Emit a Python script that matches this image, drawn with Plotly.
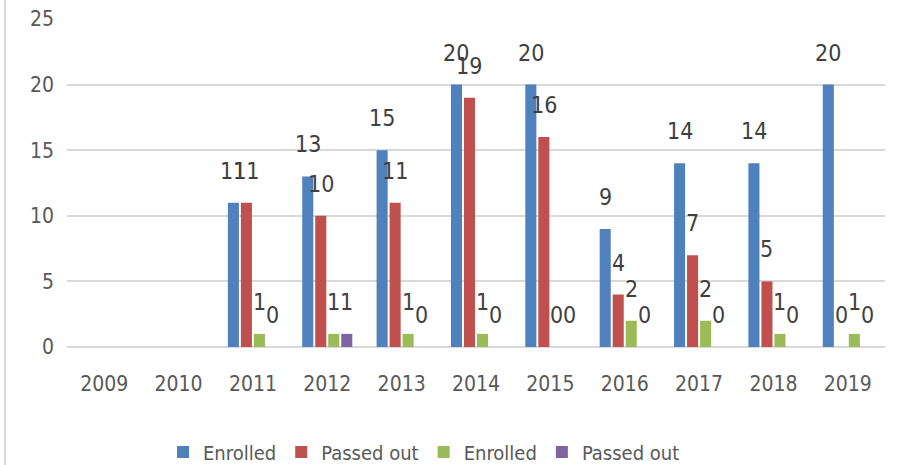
import plotly.graph_objects as go

years = ["2009", "2010", "2011", "2012", "2013", "2014", "2015", "2016", "2017", "2018", "2019"]
enrolled_a = [None, None, 11, 13, 15, 20, 20, 9, 14, 14, 20]
passed_a = [None, None, 11, 10, 11, 19, 16, 4, 7, 5, 0]
enrolled_b = [None, None, 1, 1, 1, 1, 0, 2, 2, 1, 1]
passed_b = [None, None, 0, 1, 0, 0, 0, 0, 0, 0, 0]

series = [
    ("Enrolled", enrolled_a, "#4F81BD"),
    ("Passed out", passed_a, "#C0504D"),
    ("Enrolled", enrolled_b, "#9BBB59"),
    ("Passed out", passed_b, "#8064A2"),
]

FONT = "DejaVu Sans Condensed, Liberation Sans Narrow, Liberation Sans, sans-serif"

W, H = 899, 465
ML, MR, MT, MB = 67, 14, 19, 118
BARGAP = 0.3
plot_w = W - ML - MR
slot = plot_w / len(years) * (1 - BARGAP) / len(series)

fig = go.Figure()
annotations = []
for i, (name, vals, col) in enumerate(series):
    fig.add_trace(go.Bar(
        x=years, y=vals, name=name, marker_color=col,
        marker_line_width=0,
    ))
    for j, v in enumerate(vals):
        if v is None:
            continue
        annotations.append(dict(
            x=j, y=v, xref="x", yref="y", text=str(v), showarrow=False,
            xanchor="center", yanchor="bottom",
            xshift=(i - (len(series) - 1) / 2) * slot, yshift=17,
            font=dict(family=FONT, size=23, color="#404040"),
        ))

fig.update_layout(
    width=W, height=H,
    margin=dict(l=ML, r=MR, t=MT, b=MB, autoexpand=False),
    paper_bgcolor="white", plot_bgcolor="white",
    barmode="group", bargap=BARGAP, bargroupgap=0.15,
    font=dict(family=FONT, size=20, color="#595959"),
    showlegend=True,
    legend=dict(orientation="h", x=(424 - ML) / plot_w, xanchor="center", y=-0.32, yanchor="middle",
                font=dict(family=FONT, size=20, color="#595959"),
                itemwidth=30, traceorder="normal"),
    annotations=annotations,
)
fig.update_yaxes(range=[0, 25], dtick=5, showgrid=True, gridcolor="#D9D9D9", gridwidth=2,
                 zeroline=True, zerolinecolor="#D9D9D9", zerolinewidth=2,
                 showline=False, ticks="", ticklabelstandoff=12, automargin=False,
                 tickfont=dict(family=FONT, size=21, color="#595959"))
fig.update_xaxes(type="category", categoryorder="array", categoryarray=years,
                 range=[-0.5, len(years) - 0.5],
                 showgrid=False, showline=False, ticks="", ticklabelstandoff=22, automargin=False,
                 tickfont=dict(family=FONT, size=21, color="#595959"))

fig.add_shape(type="line", xref="paper", yref="paper",
              x0=(5 - ML) / plot_w, x1=(5 - ML) / plot_w, y0=-0.36, y1=1.06,
              line=dict(color="#D9D9D9", width=2))

fig.write_html("out.html", config={"displayModeBar": False},
               post_script="document.body.style.margin='0';document.body.style.overflow='hidden';")
